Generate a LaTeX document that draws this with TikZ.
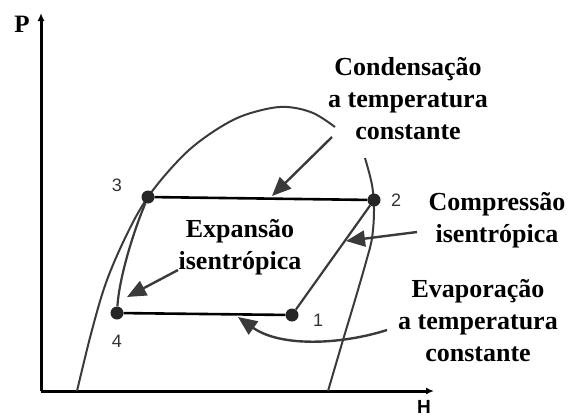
\documentclass[tikz,border=0pt]{standalone}
\usepackage{fontspec}
\setmainfont{Liberation Serif}
\setsansfont{Liberation Sans}
\usetikzlibrary{arrows.meta}
\definecolor{curvegray}{HTML}{3A3A3A}
\tikzset{
  dot/.style={circle,fill=black!85,inner sep=0pt,minimum size=13bp},
  cyc/.style={line width=2.6bp,black},
  dome/.style={line width=2bp,curvegray},
  pointer/.style={line width=2.4bp,curvegray,-{Triangle[length=19bp,width=16bp]}},
  axis/.style={line width=3bp,black,-{Latex[length=8bp,width=7bp]}},
  lbl/.style={font=\fontsize{26bp}{32bp}\selectfont\bfseries,align=center,inner sep=0pt},
  num/.style={font=\sffamily\fontsize{18bp}{18bp}\selectfont,text=black!80,inner sep=0pt}
}
\begin{document}
\begin{tikzpicture}[x=1bp,y=-1bp]
\useasboundingbox (0,0) rectangle (572,418);
% axes
\coordinate (O) at (41,391);
\coordinate (Ptip) at (41,13);
\coordinate (Htip) at (434,391);
\draw[axis] (O) -- (Ptip);
\draw[axis] (O) -- (Htip);
\node[font=\fontsize{25bp}{25bp}\selectfont\bfseries,inner sep=0pt] (Plbl) at (22,24) {P};
\node[font=\sffamily\fontsize{19bp}{19bp}\selectfont\bfseries,inner sep=0pt] (Hlbl) at (424,407) {H};
% saturation dome
\draw[dome] plot[smooth,tension=0.6] coordinates {(77,391) (92,330) (107,280) (128,232) (148,197) (175,164) (200,141) (233,120) (262,110) (287,107) (313,113) (335,127)};
\draw[dome] plot[smooth,tension=0.6] coordinates {(365,158) (372,185) (374,210) (372,238) (366,262) (355,300) (343,340) (328,391)};
% state points
\node[dot] (n1) at (292,315) {};
\node[dot] (n2) at (374,200) {};
\node[dot] (n3) at (148,197) {};
\node[dot] (n4) at (117,313) {};
\node[num] (l1) at (318,320) {1};
\node[num] (l2) at (396,200) {2};
\node[num] (l3) at (117,185) {3};
\node[num] (l4) at (117,341) {4};
% cycle
\draw[cyc] (n3) -- (n2);
\draw[cyc] (n4) -- (n1);
\draw[dome,line width=2.2bp] (n1) -- (n2);
\draw[dome,line width=2.2bp] (n3) .. controls (132,235) and (119,280) .. (n4);
% labels
\node[lbl] (tcond) at (408,99) {Condensação\\a temperatura\\constante};
\node[lbl] (tcomp) at (497,220) {Compressão\\isentrópica};
\node[lbl] (tevap) at (478,321) {Evaporação\\a temperatura\\constante};
\node[lbl] (texp) at (240,247) {Expansão\\isentrópica};
% pointers
\coordinate (acond) at (332,137);
\coordinate (acondtip) at (272,196);
\coordinate (acomp) at (417,232);
\coordinate (acomptip) at (346,241);
\coordinate (aexp) at (178,270);
\coordinate (aexptip) at (127,297);
\coordinate (aevap) at (387,330);
\coordinate (aevaptip) at (238,317);
\draw[pointer] (acond) -- (acondtip);
\draw[pointer] (acomp) -- (acomptip);
\draw[pointer] (aexp) -- (aexptip);
\draw[pointer] (aevap) .. controls (340,345) and (280,347) .. (aevaptip);
\end{tikzpicture}
\end{document}
